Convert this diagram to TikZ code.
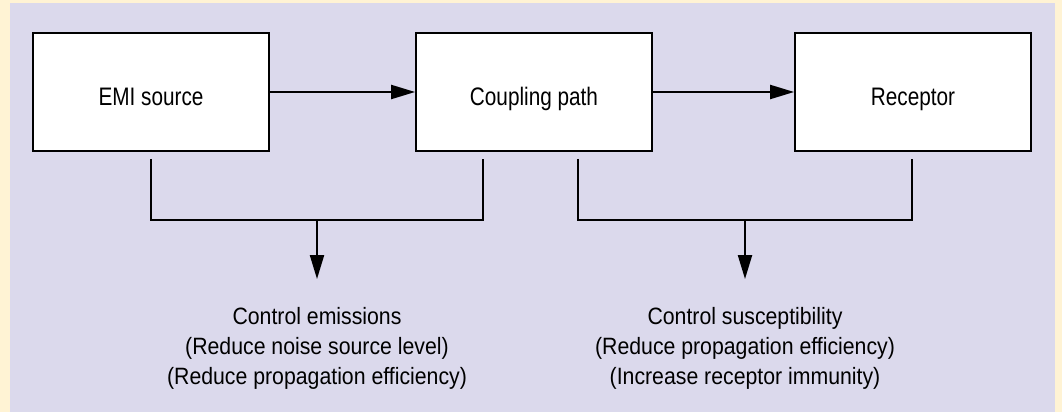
\documentclass[tikz,border=0pt]{standalone}
\usepackage{fontspec}
\setmainfont{Liberation Sans}
\newfontfamily\boxfont[FakeStretch=0.82]{Liberation Sans}
\newfontfamily\notefont[FakeStretch=0.9]{Liberation Sans}
\usetikzlibrary{calc,arrows.meta}
\definecolor{bgcream}{RGB}{255,243,212}
\definecolor{bglilac}{RGB}{219,217,236}

\begin{document}
\begin{tikzpicture}[
  x=0.025cm, y=-0.025cm,
  block/.style={draw, fill=white, line width=1.3pt, minimum width=5.9cm,
    minimum height=2.95cm, inner sep=0pt, text height=18.5pt, text depth=0pt,
    font=\boxfont\fontsize{18}{22}\selectfont},
  note/.style={align=center, inner sep=0pt, anchor=north,
    font=\notefont\fontsize{16.8}{21.3}\selectfont},
  link/.style={line width=1.3pt, -{Triangle[length=17pt,width=10pt]}},
  brace/.style={line width=1.3pt}
]
% background
\fill[bgcream] (0,0) rectangle (1062,412);
\fill[bglilac] (10,3) rectangle (1055,412);

% blocks
\node[block] (emi) at (151,92) {EMI source};
\node[block] (coupling) at (534,92) {Coupling path};
\node[block] (receptor) at (913,92) {Receptor};

\draw[link] (emi) -- (coupling);
\draw[link] (coupling) -- (receptor);

% left bracket
\coordinate (emitap) at (151,159);
\coordinate (cpltapA) at (483,159);
\coordinate (joinA) at (317,220);
\coordinate (tipA) at (317,279);
\draw[brace] (emitap) |- (joinA) -| (cpltapA);
\draw[link] (joinA) -- (tipA);

% right bracket
\coordinate (cpltapB) at (578,159);
\coordinate (rectap) at (912,159);
\coordinate (joinB) at (745,220);
\coordinate (tipB) at (745,279);
\draw[brace] (cpltapB) |- (joinB) -| (rectap);
\draw[link] (joinB) -- (tipB);

% notes
\node[note] (emission) at (317,307)
  {Control emissions\\(Reduce noise source level)\\(Reduce propagation efficiency)};
\node[note] (suscept) at (745,307)
  {Control susceptibility\\(Reduce propagation efficiency)\\(Increase receptor immunity)};
\end{tikzpicture}
\end{document}
